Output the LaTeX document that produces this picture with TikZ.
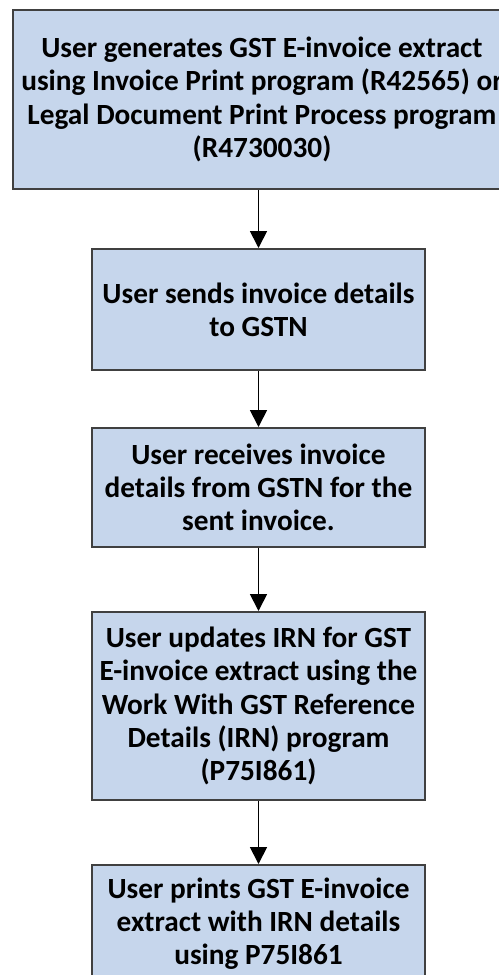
\documentclass[tikz,border=0pt]{standalone}
\usepackage{fontspec}
\setmainfont{Carlito}
\usetikzlibrary{arrows.meta}
\definecolor{boxfill}{RGB}{198,214,236}
\definecolor{boxline}{RGB}{64,64,64}
\tikzset{
  procbox/.style={draw=boxline, line width=2bp, fill=boxfill, rectangle, align=center,
    inner sep=0pt, font=\fontsize{29.4}{33.3}\selectfont\bfseries},
  flowarrow/.style={draw=black, line width=1.8bp, -{Triangle[width=17bp,length=17bp]}}
}
\begin{document}
\begin{tikzpicture}[x=1bp,y=-1bp]
\useasboundingbox (0,0) rectangle (499,975);
\clip (0,0) rectangle (499,975);
\fill[white] (0,0) rectangle (499,975);
\node[procbox, minimum width=498bp, minimum height=179bp] (b1) at (262,99.5)
  {User generates GST E-invoice extract\\using Invoice Print program (R42565) or\\Legal Document Print Process program\\(R4730030)};
\node[procbox, minimum width=333bp, minimum height=121bp] (b2) at (258.5,309.5)
  {User sends invoice details\\to GSTN};
\node[procbox, minimum width=333bp, minimum height=119bp] (b3) at (258.5,487.5)
  {User receives invoice\\details from GSTN for the\\sent invoice.};
\node[procbox, minimum width=333bp, minimum height=188bp] (b4) at (258.5,706)
  {User updates IRN for GST\\E-invoice extract using the\\Work With GST Reference\\Details (IRN) program\\(P75I861)};
\node[procbox, minimum width=333bp, minimum height=118bp] (b5) at (258.5,924)
  {User prints GST E-invoice\\extract with IRN details\\using P75I861};
\draw[flowarrow] (b1.south -| b2.north) -- (b2.north);
\draw[flowarrow] (b2.south) -- (b3.north);
\draw[flowarrow] (b3.south) -- (b4.north);
\draw[flowarrow] (b4.south) -- (b5.north);
\end{tikzpicture}
\end{document}
